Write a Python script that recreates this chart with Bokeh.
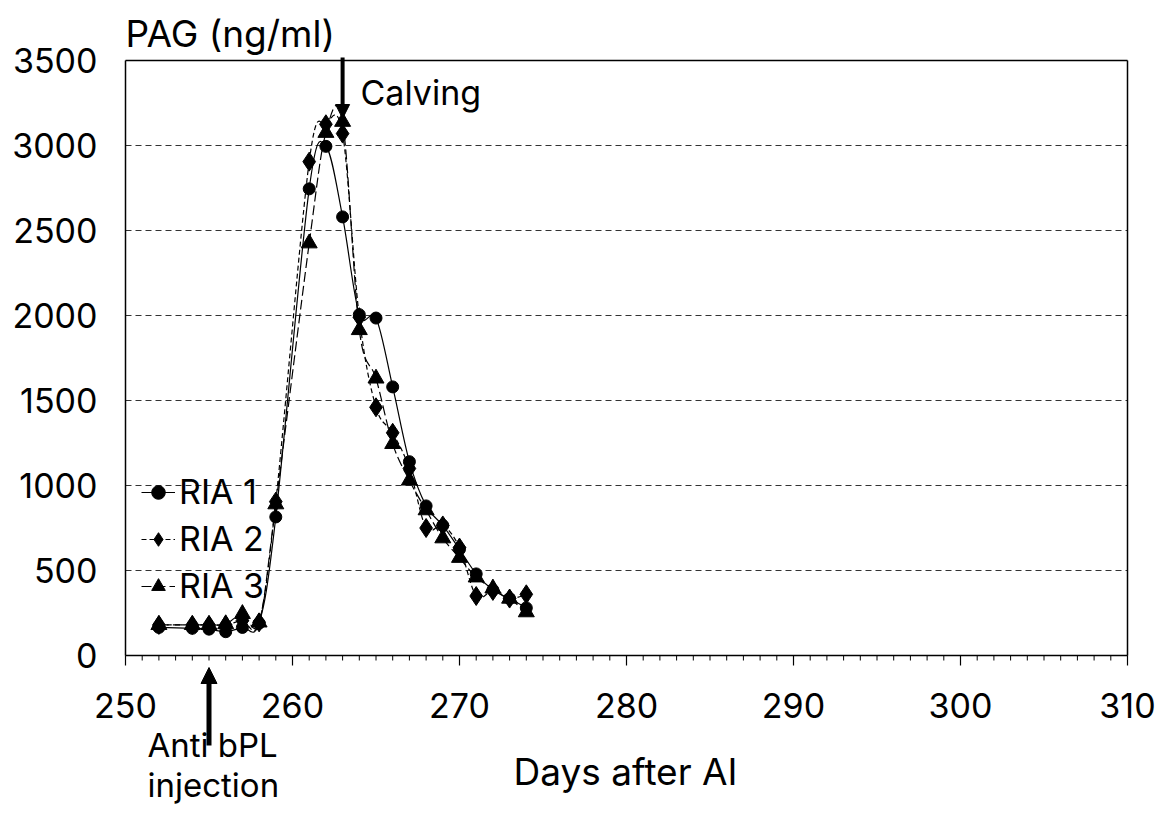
from bokeh.plotting import figure
from bokeh.models import (Range1d, Label, Arrow, NormalHead, Legend, LegendItem,
                          ColumnDataSource)
from bokeh.core.properties import value
from bokeh.embed import file_html
from bokeh.resources import INLINE

# ---- data ----
days = [252, 254, 255, 256, 257, 258, 259, 261, 262, 263, 264, 265, 266, 267, 268, 269, 270, 271, 272, 273, 274]
ria1 = [165, 160, 155, 140, 165, 190, 815, 2745, 2995, 2580, 2005, 1985, 1580, 1140, 880, 765, 625, 480, 385, 335, 280]
ria2 = [180, 180, 180, 180, 205, 195, 905, 2905, 3125, 3070, 1990, 1460, 1310, 1100, 750, 765, 635, 350, 380, 335, 360]
ria3 = [180, 180, 180, 185, 245, 195, 890, 2425, 3075, 3140, 1915, 1630, 1245, 1030, 855, 690, 575, 460, 395, 335, 255]
series_names = ["RIA 1", "RIA 2", "RIA 3"]
x_ticks = [250, 260, 270, 280, 290, 300, 310]
x_minor = list(range(250, 311))
y_ticks = [0, 500, 1000, 1500, 2000, 2500, 3000, 3500]
calving_day = 263
injection_day = 255

FONT = "Inter"
X0, X1, Y0, Y1 = 250, 310, 0, 3500

# layout constants (pixels)
W, H = 1163, 810
LEFT, RIGHT, TOP_AX = 125, 36, 60
PLOT_W, PLOT_H = W - LEFT - RIGHT, 595
k = (Y1 - Y0) / PLOT_H             # data units per pixel (y)
kx = (X1 - X0) / PLOT_W            # data units per pixel (x)

p = figure(width=W, height=H, output_backend="svg", toolbar_location=None,
           x_axis_location=None, y_axis_location=None,
           x_range=Range1d(X0 - LEFT * kx, X1 + RIGHT * kx),
           y_range=Range1d(Y1 - (H - TOP_AX) * k, Y1 + TOP_AX * k),
           min_border=0)
p.background_fill_color = "white"
p.border_fill_color = "white"
p.outline_line_color = None
p.grid.grid_line_color = None

def px_y(py):
    return Y1 + (TOP_AX - py) * k

def px_x(pxv):
    return X0 + (pxv - LEFT) * kx

# horizontal dashed grid lines at the y ticks
g = [t for t in y_ticks if Y0 < t < Y1]
p.segment(x0=[X0] * len(g), y0=g, x1=[X1] * len(g), y1=g,
          line_color="#333333", line_width=1, line_dash="6 4")

# frame / axis lines
p.segment(x0=[X0, X1, X0, X0], y0=[Y0, Y0, Y1, Y0], x1=[X0, X1, X1, X1], y1=[Y1, Y1, Y1, Y0],
          line_color="black", line_width=1.5)

# x ticks and labels (built from tick lists)
p.segment(x0=x_minor, y0=[Y0] * len(x_minor), x1=x_minor, y1=[Y0 - 5 * k] * len(x_minor),
          line_color="black", line_width=1)
p.segment(x0=x_ticks, y0=[Y0] * len(x_ticks), x1=x_ticks, y1=[Y0 - 10 * k] * len(x_ticks),
          line_color="black", line_width=1.2)
p.text(x=x_ticks, y=[px_y(705)] * len(x_ticks), text=[str(t) for t in x_ticks],
       text_font=value(FONT), text_font_size="34px", text_align="center",
       text_baseline="middle", text_color="black")

# y tick labels
p.text(x=[px_x(97)] * len(y_ticks), y=y_ticks, text=[str(t) for t in y_ticks],
       text_font=value(FONT), text_font_size="34px", text_align="right",
       text_baseline="middle", text_color="black")

# smoothed lines (Catmull-Rom -> cubic Bezier) built from the data arrays
def bezier_source(xs, ys):
    n = len(xs)
    d = dict(x0=[], y0=[], x1=[], y1=[], cx0=[], cy0=[], cx1=[], cy1=[])
    for i in range(n - 1):
        xm, ym = (xs[i - 1], ys[i - 1]) if i > 0 else (xs[i], ys[i])
        xp, yp = (xs[i + 2], ys[i + 2]) if i + 2 < n else (xs[i + 1], ys[i + 1])
        d["x0"].append(xs[i]); d["y0"].append(ys[i])
        d["x1"].append(xs[i + 1]); d["y1"].append(ys[i + 1])
        d["cx0"].append(xs[i] + (xs[i + 1] - xm) / 6.0)
        d["cy0"].append(ys[i] + (ys[i + 1] - ym) / 6.0)
        d["cx1"].append(xs[i + 1] - (xp - xs[i]) / 6.0)
        d["cy1"].append(ys[i + 1] - (yp - ys[i]) / 6.0)
    return ColumnDataSource(d)

styles = [
    dict(dash="solid", marker="circle", size=12),
    dict(dash="5 3", marker="diamond", size=19),
    dict(dash="10 4", marker="triangle", size=16),
]
items = []
for name, vals, st in zip(series_names, [ria1, ria2, ria3], styles):
    src = bezier_source(days, vals)
    r_line = p.bezier(x0="x0", y0="y0", x1="x1", y1="y1", cx0="cx0", cy0="cy0",
                      cx1="cx1", cy1="cy1", source=src, line_color="black",
                      line_width=1.2, line_dash=st["dash"])
    r_pts = p.scatter(days, vals, marker=st["marker"], size=st["size"],
                      fill_color="black", line_color="black")
    items.append(LegendItem(label=name, renderers=[r_line, r_pts]))

legend = Legend(items=items, location=(LEFT + 16, 192 + (H - 798)), background_fill_alpha=0,
                border_line_color=None, label_text_font=FONT,
                label_text_font_size="34px", label_text_color="black",
                glyph_width=34, glyph_height=40, label_height=40, spacing=6,
                label_standoff=4, padding=4, margin=0)
p.add_layout(legend, "center")

# texts
p.add_layout(Label(x=X0, y=px_y(33), text="PAG (ng/ml)", text_font=FONT,
                   text_font_size="37px", text_baseline="middle", text_align="left",
                   text_color="black"))
p.add_layout(Label(x=px_x(360), y=px_y(92), text="Calving", text_font=FONT,
                   text_font_size="34px", text_baseline="middle", text_align="left",
                   text_color="black"))
p.add_layout(Label(x=px_x(147), y=px_y(744), text="Anti bPL", text_font=FONT,
                   text_font_size="33px", text_baseline="middle", text_align="left",
                   text_color="black"))
p.add_layout(Label(x=px_x(147), y=px_y(784), text="injection", text_font=FONT,
                   text_font_size="33px", text_baseline="middle", text_align="left",
                   text_color="black"))
p.add_layout(Label(x=px_x(625), y=px_y(771), text="Days after AI", text_font=FONT,
                   text_font_size="37px", text_baseline="middle", text_align="center",
                   text_color="black"))

# arrows
p.add_layout(Arrow(x_start=calving_day, y_start=px_y(57), x_end=calving_day, y_end=px_y(118),
                   line_width=4, line_color="black",
                   end=NormalHead(size=14, fill_color="black", line_color="black")))
p.add_layout(Arrow(x_start=injection_day, y_start=px_y(745), x_end=injection_day, y_end=px_y(667),
                   line_width=5, line_color="black",
                   end=NormalHead(size=16, fill_color="black", line_color="black")))

open("out.html", "w").write(file_html(p, INLINE))
